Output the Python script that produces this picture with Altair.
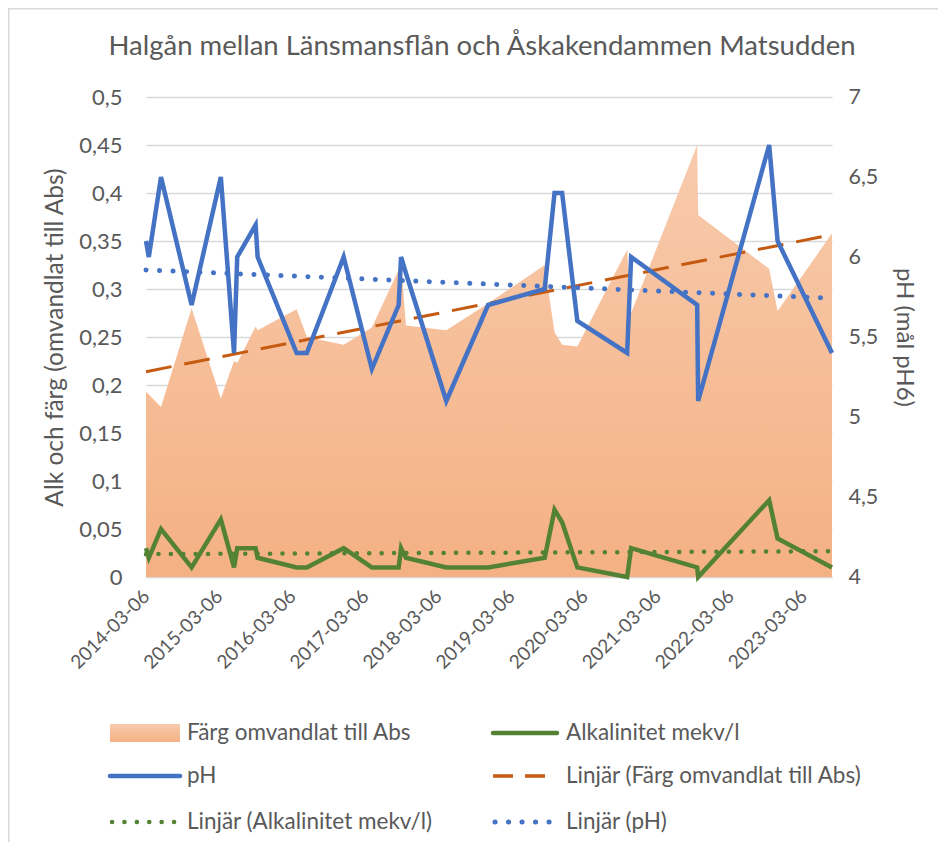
import altair as alt
import pandas as pd
import numpy as np

# ---------------- data ----------------
dates = [
    "2014-03-06", "2014-03-20", "2014-05-20", "2014-10-20", "2015-03-15",
    "2015-05-20", "2015-06-05", "2015-09-05", "2015-09-15", "2016-03-28",
    "2016-05-18", "2016-11-18", "2017-04-08", "2017-08-20", "2017-09-01",
    "2017-09-25", "2018-04-15", "2018-11-10", "2019-08-20", "2019-10-08",
    "2019-11-15", "2020-01-30", "2020-10-05", "2020-10-25", "2021-09-20",
    "2021-09-25", "2022-09-15", "2022-10-27", "2023-07-26",
]
farg = [
    0.193, 0.190, 0.177, 0.280, 0.186, 0.225, 0.223, 0.261, 0.257, 0.279,
    0.250, 0.242, 0.260, 0.320, 0.330, 0.262, 0.257, 0.285, 0.325, 0.255,
    0.242, 0.240, 0.341, 0.275, 0.450, 0.377, 0.321, 0.277, 0.358,
]
alk = [
    0.03, 0.02, 0.05, 0.01, 0.06, 0.01, 0.03, 0.03, 0.02, 0.01,
    0.01, 0.03, 0.01, 0.01, 0.03, 0.02, 0.01, 0.01, 0.02, 0.07,
    0.057, 0.01, 0.00, 0.03, 0.01, 0.00, 0.08, 0.04, 0.01,
]
ph = [
    6.1, 6.0, 6.5, 5.7, 6.5, 5.4, 6.0, 6.2, 6.0, 5.4,
    5.4, 6.0, 5.3, 5.7, 6.0, 5.9, 5.1, 5.7, 5.8, 6.4,
    6.4, 5.6, 5.4, 6.0, 5.7, 5.1, 6.7, 6.1, 5.4,
]
tick_dates = ["2014-03-06", "2015-03-06", "2016-03-06", "2017-03-06", "2018-03-06",
              "2019-03-06", "2020-03-06", "2021-03-06", "2022-03-06", "2023-03-06"]
left_ticks = [0, 0.05, 0.1, 0.15, 0.2, 0.25, 0.3, 0.35, 0.4, 0.45, 0.5]
right_ticks = [4, 4.5, 5, 5.5, 6, 6.5, 7]

title_text = "Halgån mellan Länsmansflån och Åskakendammen Matsudden"
left_title = "Alk och färg (omvandlat till Abs)"
right_title = "pH (mål pH6)"
legend_labels = ["Färg omvandlat till Abs", "Alkalinitet mekv/l", "pH",
                 "Linjär (Färg omvandlat till Abs)", "Linjär (Alkalinitet mekv/l)", "Linjär (pH)"]

# ---------------- styling ----------------
FONT = "Lato"
GREY = "#595959"
GRID = "#d9d9d9"
BLUE = "#4472C4"
GREEN = "#548235"
ORANGE = "#C55A11"
W, H = 686, 480
PAD_L, PAD_T = 138, 89
LEG_FS = 22.5

df = pd.DataFrame({
    "date": [d + "T00:00:00" for d in dates],
    "farg": farg, "alk": alk, "ph": ph,
})

# linear trend lines (least squares against date, like Excel)
t = pd.to_datetime(pd.Series(dates)).astype("int64") / 8.64e13
t0, t1 = t.iloc[0], t.iloc[-1]
def trend(vals):
    a, b = np.polyfit(t, vals, 1)
    return [a * t0 + b, a * t1 + b]
tr = pd.DataFrame({
    "date": [df["date"].iloc[0], df["date"].iloc[-1]],
    "farg": trend(farg), "alk": trend(alk), "ph": trend(ph),
})

x_dom = [df["date"].iloc[0], df["date"].iloc[-1]]
tick_vals = [alt.DateTime(year=int(s[:4]), month=int(s[5:7]), date=int(s[8:10])) for s in tick_dates]

xenc = alt.X("date:T", scale=alt.Scale(domain=x_dom, nice=False),
             axis=alt.Axis(values=tick_vals, format="%Y-%m-%d", labelAngle=-45,
                           labelAlign="right", labelBaseline="middle", labelPadding=16,
                           ticks=False, grid=False, domainColor=GRID, domainWidth=1.5,
                           labelColor=GREY, labelFont=FONT, labelFontSize=19, title=None,
                           labelOverlap=False, labelBound=False, labelFlush=False))

yl_scale = alt.Scale(domain=[0, 0.5], nice=False, zero=True)
yl_axis = alt.Axis(values=left_ticks, labelExpr="replace(format(datum.value, '.2~f'), '.', ',')",
                   grid=True, gridColor=GRID, gridWidth=1.5, ticks=False, domain=False,
                   labelColor=GREY, labelFont=FONT, labelFontSize=22, labelPadding=24,
                   title=left_title, titleColor=GREY, titleFont=FONT, titleFontSize=24.5,
                   titleFontWeight="normal", titlePadding=11)
yr_scale = alt.Scale(domain=[4, 7], nice=False, zero=False)
yr_axis = alt.Axis(values=right_ticks, labelExpr="replace(format(datum.value, '.1~f'), '.', ',')",
                   grid=False, ticks=False, domain=False, orient="right",
                   labelColor=GREY, labelFont=FONT, labelFontSize=21.5, labelPadding=16,
                   title=right_title, titleColor=GREY, titleFont=FONT, titleFontSize=24,
                   titleFontWeight="normal", titlePadding=14)

grad = alt.Gradient(gradient="linear", x1=0, y1=0, x2=0, y2=1,
                    stops=[alt.GradientStop(color="#F8CBAD", offset=0),
                           alt.GradientStop(color="#F4B183", offset=1)])

base = alt.Chart(df)
area = base.mark_area(color=grad, line=False).encode(
    x=xenc, y=alt.Y("farg:Q", scale=yl_scale, axis=yl_axis))
alk_line = base.mark_line(color=GREEN, strokeWidth=4.5, strokeJoin="miter").encode(
    x="date:T", y=alt.Y("alk:Q", scale=yl_scale))
farg_tr = alt.Chart(tr).mark_line(color=ORANGE, strokeWidth=3, strokeDash=[26, 13]).encode(
    x="date:T", y=alt.Y("farg:Q", scale=yl_scale))
alk_tr = alt.Chart(tr).mark_line(color=GREEN, strokeWidth=4.5, strokeDash=[0.1, 12.3], strokeCap="round").encode(
    x="date:T", y=alt.Y("alk:Q", scale=yl_scale))
left = alt.layer(area, alk_line, farg_tr, alk_tr)

ph_line = base.mark_line(color=BLUE, strokeWidth=4.5, strokeJoin="miter").encode(
    x="date:T", y=alt.Y("ph:Q", scale=yr_scale, axis=yr_axis))
ph_tr = alt.Chart(tr).mark_line(color=BLUE, strokeWidth=5, strokeDash=[0.1, 13.4], strokeCap="round").encode(
    x="date:T", y=alt.Y("ph:Q", scale=yr_scale))
right = alt.layer(ph_line, ph_tr)

# ---------------- title, legend and frame (drawn as marks) ----------------
one = pd.DataFrame({"k": [0]})
lg_rows = [733 - 97, 776 - 97, 822 - 97]
c1_x0, c1_x1, c1_tx = 110 - 146, 180 - 146, 187 - 146
c2_x0, c2_x1, c2_tx = 493 - 146, 557 - 146, 566 - 146

def lg_text(txt, x, y, size=LEG_FS, align="left"):
    return alt.Chart(one).mark_text(text=txt, align=align, baseline="middle", font=FONT,
                                    fontSize=size, color=GREY).encode(x=alt.value(x), y=alt.value(y))

def lg_line(x0, x1, y, color, width, dash=None, cap="round"):
    kw = dict(color=color, strokeWidth=width, strokeCap=cap)
    if dash is not None:
        kw["strokeDash"] = dash
    return alt.Chart(one).mark_rule(**kw).encode(x=alt.value(x0), x2=alt.value(x1), y=alt.value(y))

extras = [
    lg_text(title_text, 482 - 146, 47 - 97, size=27.5, align="center"),
    alt.Chart(one).mark_rect(color=grad).encode(
        x=alt.value(c1_x0), x2=alt.value(c1_x1),
        y=alt.value(lg_rows[0] - 9), y2=alt.value(lg_rows[0] + 9)),
    lg_text(legend_labels[0], c1_tx, lg_rows[0]),
    lg_line(c2_x0, c2_x1, lg_rows[0], GREEN, 4.5),
    lg_text(legend_labels[1], c2_tx, lg_rows[0]),
    lg_line(c1_x0, c1_x1, lg_rows[1], BLUE, 4.5),
    lg_text(legend_labels[2], c1_tx, lg_rows[1]),
    lg_line(c2_x0, c2_x1, lg_rows[1], ORANGE, 3.5, [20, 12], "butt"),
    lg_text(legend_labels[3], c2_tx, lg_rows[1]),
    lg_line(c1_x0 + 2, c1_x1, lg_rows[2], GREEN, 4.5, [0.1, 12.3]),
    lg_text(legend_labels[4], c1_tx, lg_rows[2]),
    lg_line(c2_x0 + 2, c2_x1, lg_rows[2], BLUE, 5, [0.1, 13.4]),
    lg_text(legend_labels[5], c2_tx, lg_rows[2]),
    alt.Chart(one).mark_rect(fillOpacity=0, stroke=GRID, strokeWidth=1.5).encode(
        x=alt.value(-PAD_L + 0.75), x2=alt.value(900),
        y=alt.value(-PAD_T + 0.75), y2=alt.value(900)),
]

chart = alt.layer(left, right, *extras).resolve_scale(y="independent").properties(
    width=W, height=H,
    autosize=alt.AutoSizeParams(type="none"),
    padding={"left": PAD_L, "top": PAD_T, "right": 930 - PAD_L - W, "bottom": 834 - PAD_T - H},
).configure_view(stroke=None)

chart.save("out.html", embed_options={"renderer": "svg", "actions": False})
